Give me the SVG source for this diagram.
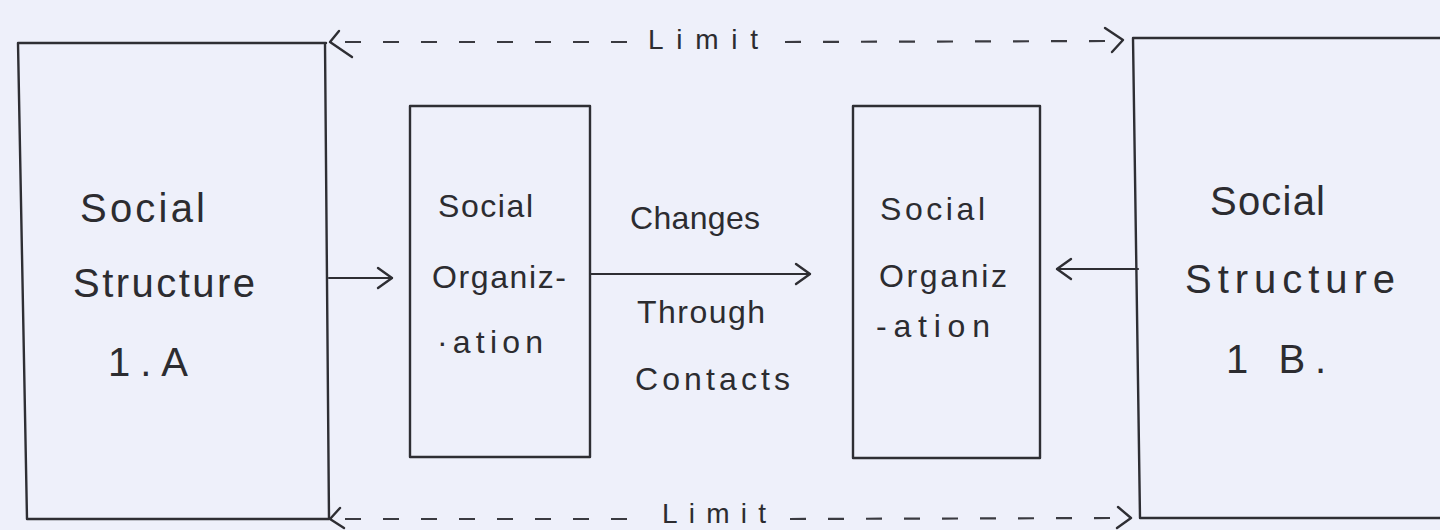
<svg xmlns="http://www.w3.org/2000/svg" width="1440" height="530" viewBox="0 0 1440 530">
  <style>
    .bg { fill: #eef0fa; }
    .box { fill: none; stroke: #2e2e33; stroke-width: 2.4; stroke-linejoin: round; stroke-linecap: round; }
    .conn { fill: none; stroke: #2e2e33; stroke-width: 2.2; stroke-linecap: round; }
    .dash { fill: none; stroke: #3a3a40; stroke-width: 2.2; stroke-dasharray: 16 22; }
    .head { fill: none; stroke: #2e2e33; stroke-width: 2.4; stroke-linecap: round; stroke-linejoin: round; }
    .big { font-family: "Liberation Sans", Arial, sans-serif; font-size: 40px; fill: #2c2c30; }
    .small { font-family: "Liberation Sans", Arial, sans-serif; font-size: 32px; fill: #2c2c30; }
    .lim { font-family: "Liberation Sans", Arial, sans-serif; font-size: 28px; fill: #2c2c30; }
  </style>
  <defs>
    <marker id="arr" viewBox="0 0 20 24" refX="18" refY="12" markerWidth="20" markerHeight="24" markerUnits="userSpaceOnUse" orient="auto">
      <polyline class="head" points="4,2 18,12 4,22"/>
    </marker>
  </defs>
  <rect class="bg" x="0" y="0" width="1440" height="530"/>

  <g id="structure-1a">
    <path class="box" d="M326 43 L18 43 L27 519 L329 519 L325 43"/>
    <text class="big" x="80" y="222" textLength="125" lengthAdjust="spacing">Social</text>
    <text class="big" x="73" y="297" textLength="182" lengthAdjust="spacing">Structure</text>
    <text class="big" x="108" y="376" textLength="80" lengthAdjust="spacing">1.A</text>
  </g>

  <g id="organization-a">
    <rect class="box" x="410" y="106" width="180" height="351"/>
    <text class="small" x="438" y="217" textLength="95" lengthAdjust="spacing">Social</text>
    <text class="small" x="432" y="288" textLength="134" lengthAdjust="spacing">Organiz-</text>
    <text class="small" x="437" y="353" textLength="106" lengthAdjust="spacing">·ation</text>
  </g>

  <g id="organization-b">
    <rect class="box" x="853" y="106" width="187" height="352"/>
    <text class="small" x="880" y="220" textLength="105" lengthAdjust="spacing">Social</text>
    <text class="small" x="879" y="287" textLength="128" lengthAdjust="spacing">Organiz</text>
    <text class="small" x="876" y="337" textLength="114" lengthAdjust="spacing">-ation</text>
  </g>

  <g id="structure-1b">
    <path class="box" d="M1440 38 L1133 38 L1140 518 L1440 518"/>
    <text class="big" x="1210" y="215" textLength="115" lengthAdjust="spacing">Social</text>
    <text class="big" x="1185" y="293" textLength="210" lengthAdjust="spacing">Structure</text>
    <text class="big" x="1226" y="373" textLength="100" lengthAdjust="spacing">1 B.</text>
  </g>

  <g id="connectors">
    <line class="conn" x1="329" y1="278" x2="392" y2="278" marker-end="url(#arr)"/>
    <line class="conn" x1="590" y1="274" x2="810" y2="274" marker-end="url(#arr)"/>
    <line class="conn" x1="1138" y1="269" x2="1057" y2="269" marker-end="url(#arr)"/>

    <!-- top limit -->
    <line class="dash" x1="345" y1="42" x2="632" y2="42"/>
    <line class="dash" x1="785" y1="42" x2="1112" y2="41"/>
    <polyline class="head" points="339,31 330,42 352,57"/>
    <polyline class="head" points="1105,28 1123,40 1112,52"/>
    <text class="lim" x="648" y="49" textLength="110" lengthAdjust="spacing">Limit</text>

    <!-- bottom limit -->
    <line class="dash" x1="345" y1="519" x2="640" y2="519"/>
    <line class="dash" x1="790" y1="519" x2="1118" y2="518"/>
    <polyline class="head" points="340,508 330,519 344,528"/>
    <polyline class="head" points="1118,507 1131,518 1117,528"/>
    <text class="lim" x="662" y="523" textLength="104" lengthAdjust="spacing">Limit</text>

    <text class="small" x="630" y="229" textLength="130" lengthAdjust="spacing">Changes</text>
    <text class="small" x="637" y="323" textLength="128" lengthAdjust="spacing">Through</text>
    <text class="small" x="635" y="390" textLength="155" lengthAdjust="spacing">Contacts</text>
  </g>
</svg>
